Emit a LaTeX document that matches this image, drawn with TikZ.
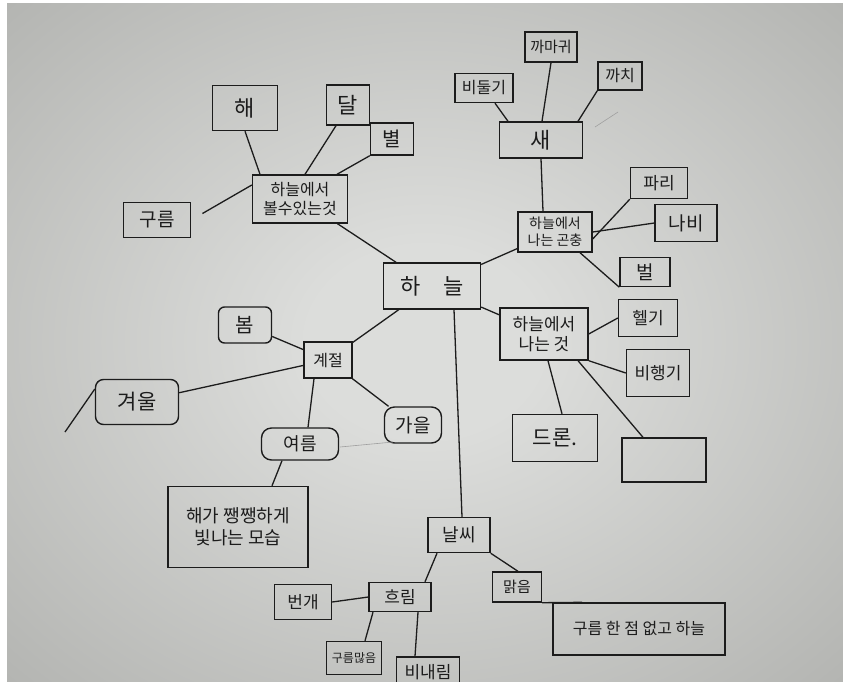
\documentclass[tikz,border=0pt]{standalone}
\usepackage{fontspec}
\usetikzlibrary{positioning}
\newfontfamily\hangul{Noto Sans CJK KR}
\definecolor{tinta}{HTML}{1C1C1C}
\definecolor{papelclaro}{HTML}{DCDDDB}
\definecolor{papeloscuro}{HTML}{B3B4B1}
\pgfdeclareradialshading{papel}{\pgfpoint{0bp}{0bp}}{color(0bp)=(papelclaro); color(7bp)=(papelclaro); color(36bp)=(papeloscuro)}
\tikzset{
  caja/.style={draw=tinta, line width=1.4pt, inner sep=0pt, align=center, text=tinta},
  fs/.style={font=\hangul\fontsize{#1}{1.2\dimexpr#1pt\relax}\selectfont},
  linea/.style={tinta, line width=1.3pt},
  tenue/.style={gray!75, line width=0.6pt}
}
\begin{document}
\begin{tikzpicture}[x=1pt, y=-1pt]
    \useasboundingbox (0,0) rectangle (843,681);
    \fill[white] (0,0) rectangle (843,681);
    \shade[shading=papel] (7,3) rectangle (843,681);
    % centro
    \node[caja, fs=22, minimum width=97, minimum height=46] (cielo) at (432,286) {하\quad 늘};
    % lo que se ve
    \node[caja, fs=16, minimum width=95, minimum height=48] (ver) at (300,199) {하늘에서\\볼수있는것};
    \node[caja, fs=22, minimum width=65, minimum height=45] (sol) at (245,108) {해};
    \node[caja, fs=22, minimum width=43, minimum height=40] (luna) at (348,105) {달};
    \node[caja, fs=20, minimum width=43, minimum height=32] (estrella) at (392,139) {별};
    \node[caja, fs=19, minimum width=67, minimum height=35] (nube) at (157,220) {구름};
    % aves e insectos
    \node[caja, fs=22, minimum width=83, minimum height=36] (ave) at (541,140) {새};
    \node[caja, fs=16, minimum width=58, minimum height=29] (paloma) at (484,88) {비둘기};
    \node[caja, fs=15, minimum width=52, minimum height=30] (cuervo) at (551,47) {까마귀};
    \node[caja, fs=16, minimum width=44, minimum height=28] (urraca) at (620,76) {까치};
    \node[caja, fs=14, minimum width=74, minimum height=40] (insecto) at (555,232) {하늘에서\\나는 곤충};
    \node[caja, fs=17, minimum width=57, minimum height=31] (mosca) at (659,183) {파리};
    \node[caja, fs=19, minimum width=62, minimum height=37] (mariposa) at (686,223) {나비};
    \node[caja, fs=19, minimum width=50, minimum height=29] (abeja) at (645,272) {벌};
    % lo que vuela
    \node[caja, fs=17, minimum width=88, minimum height=52] (vuela) at (544,334) {하늘에서\\나는 것};
    \node[caja, fs=17, minimum width=59, minimum height=37] (helico) at (648,318) {헬기};
    \node[caja, fs=17, minimum width=63, minimum height=47] (avion) at (658,373) {비행기};
    \node[caja, fs=21, minimum width=85, minimum height=47] (dron) at (555,438) {드론.};
    \node[caja, minimum width=84, minimum height=44] (vacio) at (664,460) {};
    % estaciones
    \node[caja, fs=16, minimum width=48, minimum height=36] (estacion) at (328,360) {계절};
    \node[caja, fs=20, rounded corners=6pt, minimum width=53, minimum height=36] (primavera) at (245,325) {봄};
    \node[caja, fs=21, rounded corners=8pt, minimum width=83, minimum height=45] (invierno) at (137,402) {겨울};
    \node[caja, fs=19, rounded corners=10pt, minimum width=57, minimum height=36] (otono) at (413,425) {가을};
    \node[caja, fs=18, rounded corners=10pt, minimum width=77, minimum height=32] (verano) at (300,444) {여름};
    \node[caja, fs=18, minimum width=140, minimum height=81] (soleado) at (238,527) {해가 쨍쨍하게\\빛나는 모습};
    % tiempo
    \node[caja, fs=18, minimum width=62, minimum height=35] (clima) at (459,535) {날씨};
    \node[caja, fs=17, minimum width=62, minimum height=29] (nublado) at (400,597) {흐림};
    \node[caja, fs=17, minimum width=57, minimum height=35] (rayo) at (303,602) {번개};
    \node[caja, fs=12, minimum width=55, minimum height=33] (nuboso) at (354,658) {구름많음};
    \node[caja, fs=17, minimum width=63, minimum height=30] (lluvia) at (428,672) {비내림};
    \node[caja, fs=15, minimum width=49, minimum height=30] (despejado) at (517,587) {맑음};
    \node[caja, fs=16, minimum width=172, minimum height=52] (sinnubes) at (639,629) {구름 한 점 없고 하늘};
    \coordinate (colainv) at (65,432);
    \coordinate (trazo1) at (595,127);
    \coordinate (trazo2) at (618,112);
    \coordinate (trazo3) at (340,447);
    \coordinate (trazo4) at (393,442);

    \draw[linea] (ver) -- (cielo);
    \draw[linea] (insecto) -- (cielo);
    \draw[linea] (vuela) -- (cielo);
    \draw[linea] (estacion) -- (cielo);
    \draw[linea] ([xshift=22]cielo.south) -- ([xshift=3]clima.north);
    \draw[linea] (sol.south) -- ([xshift=-40]ver.north);
    \draw[linea] ([xshift=-12]luna.south) -- ([xshift=5]ver.north);
    \draw[linea] (estrella.south west) -- ([xshift=37]ver.north);
    \draw[linea, shorten <=13pt] (nube.east) -- ([yshift=14]ver.west);
    \draw[linea] ([xshift=11]paloma.south) -- ([xshift=-33]ave.north);
    \draw[linea] (cuervo.south) -- ([xshift=1]ave.north);
    \draw[linea] (urraca.south west) -- ([xshift=37]ave.north);
    \draw[linea] (ave.south) -- ([xshift=-12]insecto.north);
    \draw[linea] ([yshift=-7]insecto.east) -- (mosca.south west);
    \draw[linea] (insecto.east) -- (mariposa.west);
    \draw[linea] ([xshift=25]insecto.south) -- (abeja.south west);
    \draw[linea] (vuela.east) -- (helico.west);
    \draw[linea] (vuela.south east) -- (avion.west);
    \draw[linea] ([xshift=4]vuela.south) -- ([xshift=7]dron.north);
    \draw[linea] ([xshift=34]vuela.south) -- ([xshift=-21]vacio.north);
    \draw[linea] (primavera) -- (estacion);
    \draw[linea] (estacion) -- (invierno);
    \draw[linea] (estacion) -- (otono);
    \draw[linea] ([xshift=-14]estacion.south) -- ([xshift=8]verano.north);
    \draw[linea] ([xshift=-18]verano.south) -- ([xshift=34]soleado.north);
    \draw[linea] (colainv) -- ([yshift=13]invierno.west);
    \draw[linea] ([xshift=-22]clima.south) -- ([xshift=25]nublado.north);
    \draw[linea] (clima.south east) -- ([xshift=1]despejado.north);
    \draw[linea] (rayo.east) -- (nublado.west);
    \draw[linea] ([xshift=-27]nublado.south) -- ([xshift=11]nuboso.north);
    \draw[linea] ([xshift=18]nublado.south) -- ([xshift=-13]lluvia.north);
    \draw[linea] (despejado.south east) -- ([xshift=-57]sinnubes.north);
    \draw[tenue] (trazo1) -- (trazo2);
    \draw[tenue] (trazo3) -- (trazo4);
\end{tikzpicture}
\end{document}
